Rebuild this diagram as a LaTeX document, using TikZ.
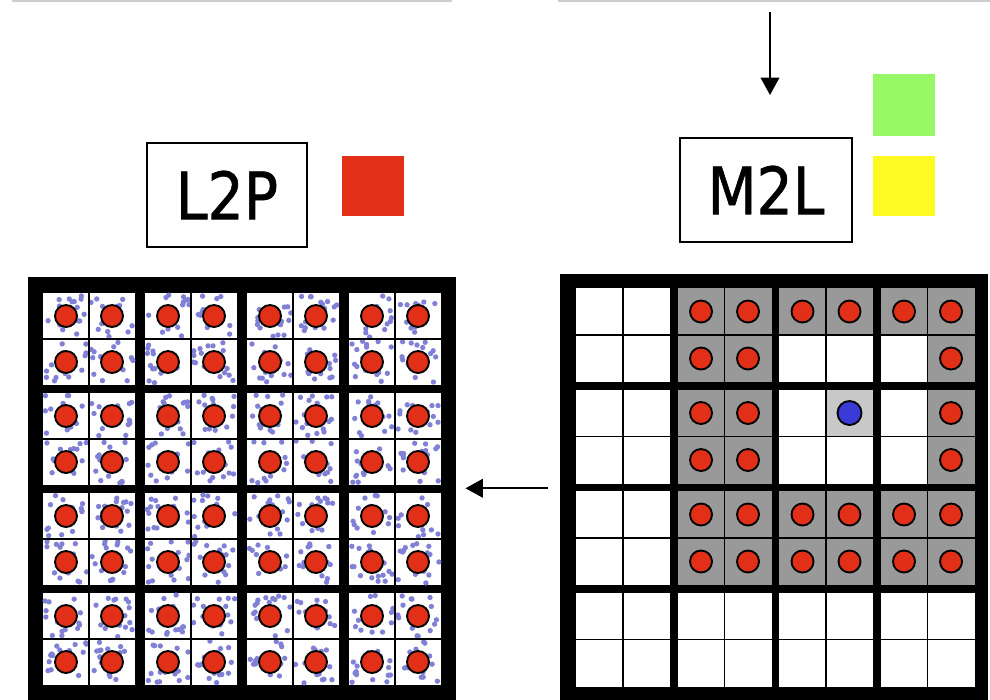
\documentclass[tikz,border=0pt]{standalone}
\usepackage{fontspec}
\setmainfont[FakeStretch=0.87, FakeBold=1]{DejaVu Sans}
\usepackage{tikz}
\usetikzlibrary{arrows.meta, positioning, calc}
\definecolor{colR}{RGB}{226, 48, 24}
\definecolor{colG}{RGB}{152, 247, 100}
\definecolor{colY}{RGB}{255, 250, 34}
\definecolor{colCell}{RGB}{153, 153, 153}
\definecolor{colNear}{RGB}{200, 200, 200}
\definecolor{colSrc}{RGB}{58, 58, 214}
\definecolor{colPart}{RGB}{128, 128, 214}
\definecolor{colRule}{RGB}{205, 205, 205}

% sel abu-abu (baris, kolom) pada grid kanan, dengan muatan merah
\newcommand{\nearcell}[2]{%
    \pgfmathsetmacro\cellx{576+101.5*floor(#2/2)+47*mod(#2,2)}%
    \pgfmathsetmacro\celly{288+101.5*floor(#1/2)+47*mod(#1,2)}%
    \fill[colCell] (\cellx,\celly) rectangle +(47,47);
    \draw[charge] (\cellx+23.5,\celly+23.5) circle (8.25pt);
}

\begin{document}
\begin{tikzpicture}[x=0.75pt, y=-0.75pt,
    opbox/.style={draw, line width=0.9pt, inner sep=0pt, minimum height=78pt,
        font=\fontsize{49}{49}\selectfont},
    swatch/.style={inner sep=0pt, minimum width=46.5pt, minimum height=45pt},
    frame/.style={fill=black, inner sep=0pt, minimum size=321pt, anchor=north west},
    charge/.style={draw=black, line width=1.4pt, fill=colR},
    cellrule/.style={line width=1.1pt},
    flow/.style={line width=1.2pt, -{Triangle[length=13pt, width=14pt]}}]
    \useasboundingbox (0,0) rectangle (990,700);

    % --- Garis atas ---
    \draw[colRule, line width=1.5pt] (12,1) -- (452,1);
    \draw[colRule, line width=1.5pt] (558,1) -- (990,1);

    % --- Label operator ---
    \node[opbox, minimum width=120pt] (l2p) at (227,195) {L2P};
    \node[opbox, minimum width=129pt] (m2l) at (766,190) {M2L};
    % Kotak warna
    \node[swatch, fill=colR] (redsw) at (373,186) {};
    \node[swatch, fill=colG, minimum height=46.5pt] (greensw) at (904,105) {};
    \node[swatch, fill=colY] (yellowsw) at (904,186) {};

    % --- Grid kiri (L2P) ---
    \node[frame] (lgrid) at (28,277) {};
    \pgfmathsetseed{2718}
    \foreach \bi in {0,...,3} {
        \foreach \bj in {0,...,3} {
            \fill[white] (43+102*\bj, 293+100*\bi) rectangle +(92,92);
            % partikel biru acak
            \foreach \ci in {0,1} \foreach \cj in {0,1} \foreach \k in {1,...,16}
                \fill[colPart] (45+102*\bj+46*\cj+42*rnd, 295+100*\bi+46*\ci+42*rnd) circle (2pt);
            \draw[cellrule] (43+102*\bj+46, 293+100*\bi) -- +(0,92);
            \draw[cellrule] (43+102*\bj, 293+100*\bi+46) -- +(92,0);
            \foreach \ci in {0,1} \foreach \cj in {0,1}
                \draw[charge] (66+102*\bj+46*\cj, 316+100*\bi+46*\ci) circle (8.25pt);
        }
    }

    % --- Grid kanan (M2L) ---
    \node[frame] (rgrid) at (560,274) {};
    \foreach \bi in {0,...,3}
        \foreach \bj in {0,...,3}
            \fill[white] (576+101.5*\bj, 288+101.5*\bi) rectangle +(94,94);
    \foreach \i in {0,4,5} \foreach \j in {2,...,7} {\nearcell{\i}{\j}}
    \foreach \i in {1,2,3} \foreach \j in {2,3,7} {\nearcell{\i}{\j}}
    % sel target
    \fill[colNear] (826,389.5) rectangle +(47,47);
    \draw[charge, fill=colSrc] (849.5,413) circle (9pt);
    \foreach \bi in {0,...,3} {
        \foreach \bj in {0,...,3} {
            \draw[cellrule] (576+101.5*\bj+47, 288+101.5*\bi) -- +(0,94);
            \draw[cellrule] (576+101.5*\bj, 288+101.5*\bi+47) -- +(94,0);
        }
    }

    % --- Panah ---
    \coordinate (feed) at (770,12);
    \coordinate (feedtip) at (770,95);
    \draw[flow] (feed) -- (feedtip);
    \draw[flow, shorten <=9pt, shorten >=6.75pt] (rgrid.west) -- (rgrid.west -| lgrid.east);
\end{tikzpicture}
\end{document}
